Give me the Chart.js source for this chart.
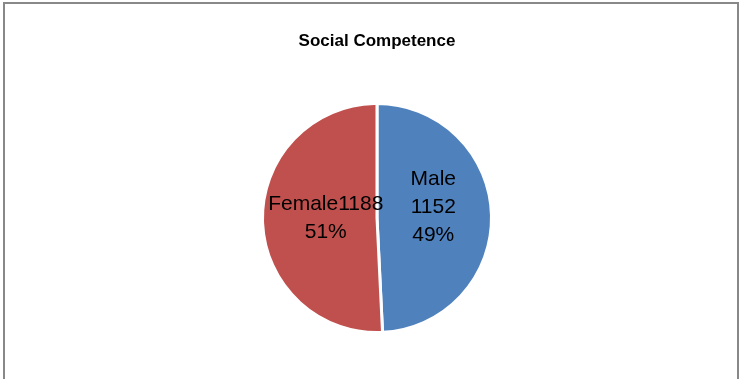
<!DOCTYPE html>
<html>
<head>
<meta charset="utf-8">
<script src="https://cdn.jsdelivr.net/npm/chart.js@4"></script>
<style>
    html, body { margin: 0; padding: 0; background: #fff; }
    #wrap { position: relative; width: 745px; height: 379px; }
    #frame { position: absolute; left: 3px; top: 2px; width: 736px; height: 400px;
        border: 2px solid #888; box-sizing: border-box; }
    canvas { position: absolute; left: 0; top: 0; }
</style>
</head>
<body>
<div id="wrap">
    <div id="frame"></div>
    <canvas id="chart" width="745" height="379"></canvas>
</div>
<script>
// Chart data
const chartTitle = 'Social Competence';
const categories = ['Male', 'Female'];
const counts = [1152, 1188];
const percents = ['49%', '51%'];
const colors = ['#4F81BD', '#C0504D'];

// Draws the title and the in-slice labels (like Excel's data labels)
const labelPlugin = {
    id: 'sliceLabels',
    afterDatasetsDraw(chart) {
        const ctx = chart.ctx;
        ctx.save();
        ctx.fillStyle = '#000';
        ctx.textAlign = 'center';
        ctx.textBaseline = 'middle';
        ctx.font = 'bold 17px "Liberation Sans", Arial, sans-serif';
        ctx.fillText(chartTitle, 377, 41);

        ctx.font = '21px "Liberation Sans", Arial, sans-serif';
        const meta = chart.getDatasetMeta(0);
        meta.data.forEach((arc, i) => {
            const p = arc.tooltipPosition();
            let lines;
            if (i === 0) {
                lines = [categories[i], String(counts[i]), percents[i]];
            } else {
                lines = [categories[i] + counts[i], percents[i]];
            }
            const lh = 28;
            const cy = i === 0 ? p.y - 9 : p.y - 1;
            const top = cy - (lines.length - 1) * lh / 2;
            lines.forEach((t, j) => ctx.fillText(t, p.x + (i === 0 ? -1 : 6), top + j * lh));
        });
        ctx.restore();
    }
};

new Chart(document.getElementById('chart'), {
    type: 'pie',
    data: {
        labels: categories,
        datasets: [{
            data: counts,
            backgroundColor: colors,
            borderColor: '#fff',
            borderWidth: 3
        }]
    },
    options: {
        responsive: false,
        animation: false,
        layout: { padding: { top: 102, bottom: 45, left: 9, right: 0 } },
        plugins: {
            legend: { display: false },
            title: { display: false },
            tooltip: { enabled: false }
        }
    },
    plugins: [labelPlugin]
});
</script>
</body>
</html>
